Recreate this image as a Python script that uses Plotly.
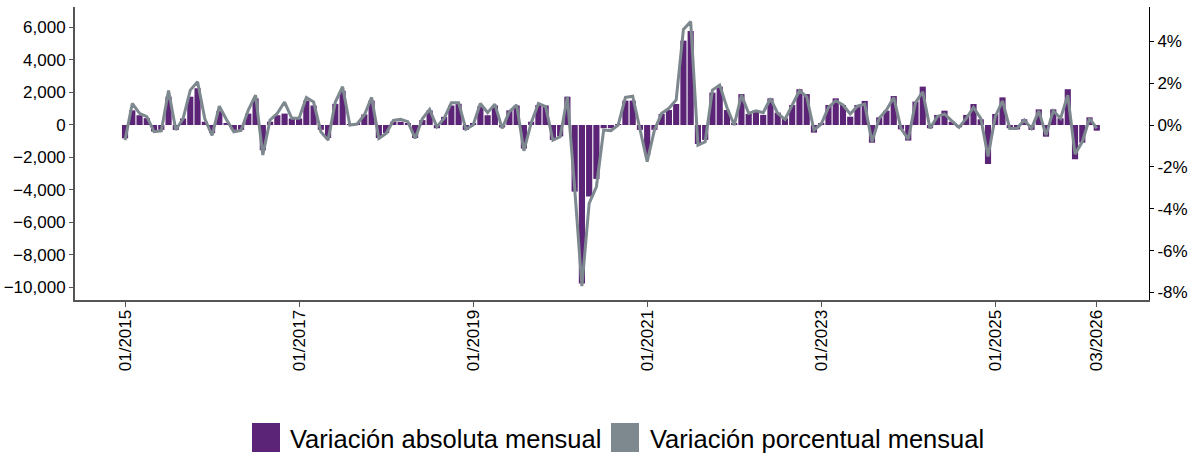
import plotly.graph_objects as go
import pandas as pd

# Months 01/2015 .. 03/2026
months = [d.strftime("%m/%Y") for d in pd.date_range("2015-01-01", "2026-03-01", freq="MS")]

abs_change = [
    -820, 900, 600, 420, -400, -300, 1740, -300, 400, 1740, 2260, 200,
    -500, 850, 100, -300, -300, 700, 1640, -1550, 200, 600, 700, 400,
    400, 1500, 1200, -300, -800, 1300, 2100, 50, 100, 650, 1500, -800,
    -500, 200, 200, 100, -800, 300, 900, -200, 500, 1200, 1300, -300,
    100, 1150, 600, 1200, -150, 900, 1200, -1450, 200, 1230, 1200, -920,
    -700, 1740, -4100, -9750, -4400, -3320, -200, -200, 60, 1500, 1500, -300,
    -1850, -300, 680, 920, 1290, 5190, 5780, -1170, -920, 1990, 2360, 920,
    100, 1900, 680, 880, 620, 1640, 760, 410, 1230, 2200, 1900, -470,
    100, 1230, 1640, 1230, 510, 1230, 1480, -1090, 470, 880, 1780, -270,
    -960, 1440, 2360, -200, 620, 880, 200, -140, 620, 1290, 350, -2400,
    680, 1700, -200, -270, 350, -300, 960, -720, 960, 410, 2200, -2110,
    -1090, 470, -350,
]

pct_change = [
    -0.72, 1.03, 0.56, 0.40, -0.32, -0.28, 1.65, -0.24, 0.30, 1.67, 2.07, 0.30,
    -0.50, 0.90, 0.25, -0.32, -0.26, 0.72, 1.43, -1.43, 0.24, 0.56, 1.10, 0.32,
    0.32, 1.32, 1.10, -0.32, -0.72, 1.10, 1.83, 0.00, 0.05, 0.48, 1.32, -0.64,
    -0.40, 0.22, 0.27, 0.16, -0.64, 0.30, 0.75, -0.08, 0.32, 1.07, 1.07, -0.20,
    0.00, 1.03, 0.59, 1.00, -0.16, 0.64, 0.96, -1.23, 0.10, 1.03, 0.88, -0.72,
    -0.56, 1.35, -3.00, -7.70, -3.74, -2.95, -0.24, -0.27, 0.00, 1.32, 1.38, -0.24,
    -1.75, -0.24, 0.56, 0.80, 1.20, 4.57, 4.94, -0.96, -0.80, 1.67, 1.91, 0.84,
    0.00, 1.43, 0.56, 0.68, 0.59, 1.27, 0.56, 0.27, 0.96, 1.64, 1.35, -0.24,
    0.05, 0.84, 1.16, 0.96, 0.53, 0.90, 1.00, -0.80, 0.32, 0.72, 1.32, -0.16,
    -0.68, 1.07, 1.59, -0.16, 0.40, 0.53, 0.20, -0.11, 0.32, 0.84, 0.32, -1.50,
    0.40, 1.16, -0.16, -0.16, 0.24, -0.16, 0.68, -0.48, 0.68, 0.32, 1.43, -1.39,
    -0.80, 0.32, -0.16,
]

tick_labels = ["01/2015", "01/2017", "01/2019", "01/2021", "01/2023", "01/2025", "03/2026"]
series_names = ["Variación absoluta mensual", "Variación porcentual mensual"]

BAR_COLOR = "#5B2476"
LINE_COLOR = "#7D888F"
FONT = "Liberation Sans, Arial, sans-serif"

W, H = 1196, 456
ML, MR, MT, MB = 75, 47, 7, 156
PW, PH = W - ML - MR, H - MT - MB


def px(xp):
    return (xp - ML) / PW


def py(yp):
    return (H - MB - yp) / PH


fig = go.Figure()
fig.add_trace(go.Bar(x=months, y=abs_change, name=series_names[0],
                     marker=dict(color=BAR_COLOR, line=dict(width=0)),
                     yaxis="y"))
fig.add_trace(go.Scatter(x=months, y=pct_change, name=series_names[1],
                         mode="lines", line=dict(color=LINE_COLOR, width=3),
                         yaxis="y2"))

shapes = []
annotations = []
legend_items = [(252, 288, BAR_COLOR, series_names[0]), (611, 648, LINE_COLOR, series_names[1])]
for sx, tx, col, name in legend_items:
    shapes.append(dict(type="rect", xref="paper", yref="paper",
                       x0=px(sx), x1=px(sx + 28), y0=py(452), y1=py(423),
                       fillcolor=col, line=dict(width=0)))
    annotations.append(dict(xref="paper", yref="paper", x=px(tx), y=py(439),
                            xanchor="left", yanchor="middle", showarrow=False,
                            text=name, font=dict(family=FONT, size=25.5, color="#000")))

tick_font = dict(family=FONT, size=17, color="#000")

fig.update_layout(
    width=W, height=H, autosize=False,
    margin=dict(l=ML, r=MR, t=MT, b=MB, autoexpand=False),
    paper_bgcolor="white", plot_bgcolor="white",
    showlegend=False, bargap=0.15,
    font=dict(family=FONT, size=17, color="#000"),
    xaxis=dict(type="category", categoryorder="array", categoryarray=months,
               range=[-6.9, 141.2], tickmode="array", tickvals=tick_labels,
               ticktext=tick_labels, tickangle=-90, showgrid=False, zeroline=False,
               showline=True, linecolor="#555", linewidth=2,
               ticks="outside", ticklen=5, tickcolor="#555",
               ticklabelstandoff=-4, tickfont=tick_font),
    yaxis=dict(range=[-10770, 7260], tickmode="linear", tick0=0, dtick=2000,
               tickformat=",d", showgrid=False, zeroline=False,
               showline=True, linecolor="#555", linewidth=2,
               ticks="outside", ticklen=4, tickcolor="#555",
               tickfont=tick_font),
    yaxis2=dict(range=[-8.36, 5.64], overlaying="y", side="right",
                tickmode="array", tickvals=[-8, -6, -4, -2, 0, 2, 4],
                ticktext=["-8%", "-6%", "-4%", "-2%", "0%", "2%", "4%"],
                showgrid=False, zeroline=False,
                showline=True, linecolor="#000", linewidth=1,
                ticks="outside", ticklen=4, tickcolor="#000",
                tickfont=tick_font),
    shapes=shapes, annotations=annotations,
)

fig.write_html("out.html", config={"displayModeBar": False},
               post_script="document.body.style.margin='0';document.body.style.padding='0';")
